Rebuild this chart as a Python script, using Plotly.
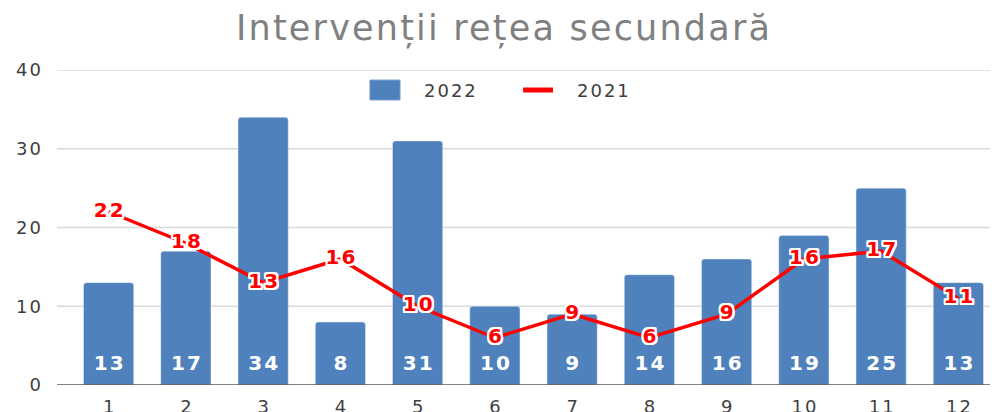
import plotly.graph_objects as go

months = ["1", "2", "3", "4", "5", "6", "7", "8", "9", "10", "11", "12"]
values_2022 = [13, 17, 34, 8, 31, 10, 9, 14, 16, 19, 25, 13]
values_2021 = [22, 18, 13, 16, 10, 6, 9, 6, 9, 16, 17, 11]
y_ticks = [0, 10, 20, 30, 40]

FONT = "DejaVu Sans"
BLUE = "#4f81bd"
RED = "#ff0000"

HALO = ", ".join(f"{dx}px {dy}px 0 white" for dx in (-2, -1, 0, 1, 2) for dy in (-2, -1, 0, 1, 2)
                 if (dx, dy) != (0, 0))


def wide(s, ls=2):
    s = str(s)
    if len(s) < 2:
        return s
    return f"<span style='letter-spacing:{ls}px'>{s[:-1]}</span>{s[-1]}"


fig = go.Figure()
fig.add_trace(go.Bar(
    x=months, y=values_2022, name="2022",
    marker=dict(color=BLUE, cornerradius=3),
    showlegend=False, hoverinfo="x+y",
))
# bar value labels near the base of each bar
fig.add_trace(go.Scatter(
    x=months, y=[0] * len(months), mode="text+markers",
    marker=dict(size=14, opacity=0),
    text=[f"<b>{wide(v, 2)}</b>" for v in values_2022],
    textposition="top center",
    textfont=dict(color="white", size=20, family=FONT),
    showlegend=False, hoverinfo="skip",
))
fig.add_trace(go.Scatter(
    x=months, y=values_2021, name="2021", mode="lines+text",
    line=dict(color=RED, width=3.5),
    text=[f"<b>{wide(v, 2)}</b>" for v in values_2021],
    textposition="middle center",
    textfont=dict(color=RED, size=20, family=FONT, shadow=HALO),
    showlegend=False,
))

shapes = []
for t in y_ticks[1:]:
    shapes.append(dict(type="line", xref="paper", yref="y", x0=-0.014, x1=1, y0=t, y1=t,
                       line=dict(color="#d9d9d9", width=1.5), layer="below"))
shapes.append(dict(type="line", xref="paper", yref="y", x0=-0.014, x1=1, y0=0, y1=0,
                   line=dict(color="#595959", width=1.5), layer="above"))
# legend symbols
shapes.append(dict(type="rect", xref="paper", yref="paper", x0=0.3236, x1=0.356, y0=0.905, y1=0.968,
                   fillcolor=BLUE, line=dict(color="#6f97cb", width=1)))
shapes.append(dict(type="line", xref="paper", yref="paper", x0=0.4888, x1=0.5210, y0=0.9365, y1=0.9365,
                   line=dict(color=RED, width=5)))

annotations = [
    dict(text=wide("2022", 2), xref="paper", yref="paper", x=0.3797, y=0.9365, xanchor="left", yanchor="middle",
         showarrow=False, font=dict(family=FONT, size=18, color="#404040")),
    dict(text=wide("2021", 2), xref="paper", yref="paper", x=0.5448, y=0.9365, xanchor="left", yanchor="middle",
         showarrow=False, font=dict(family=FONT, size=18, color="#404040")),
]

fig.update_layout(
    width=990, height=404,
    margin=dict(l=62, r=1, t=62, b=27),
    paper_bgcolor="white", plot_bgcolor="white",
    title=dict(text=wide("Intervenții rețea secundară", 2.2), x=0.5, xanchor="center", y=0.95, yanchor="middle",
               font=dict(family=FONT, size=35, color="#808080")),
    bargap=0.35,
    showlegend=False,
    shapes=shapes,
    annotations=annotations,
    font=dict(family=FONT, color="#404040"),
)
fig.update_xaxes(showgrid=False, showline=False, ticks="", tickfont=dict(size=18, color="#404040"),
                 tickvals=months, ticktext=[wide(m, 2) for m in months],
                 range=[-0.5, len(months) - 0.5],
                 ticklabelstandoff=9, automargin=False)
fig.update_yaxes(range=[0, 40], tickvals=y_ticks, ticktext=[wide(t, 2) for t in y_ticks],
                 showgrid=False, zeroline=False, showline=False,
                 tickfont=dict(size=18, color="#404040"), ticklabelstandoff=28, automargin=False)

fig.write_html("out.html")
